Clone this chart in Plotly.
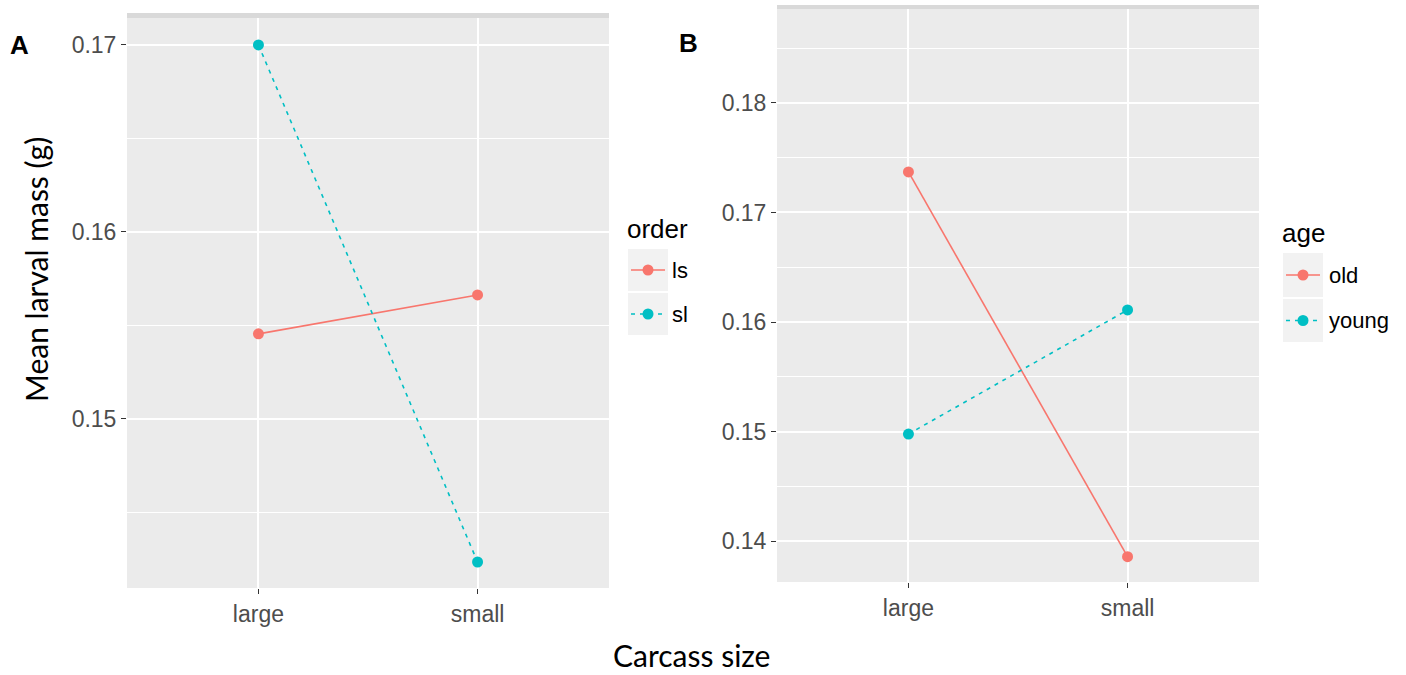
import plotly.graph_objects as go

# Carcass size categories and group means (g)
sizes = ["large", "small"]

order_groups = ["ls", "sl"]
order_ls = [0.15455, 0.15663]
order_sl = [0.1700, 0.14235]

age_groups = ["old", "young"]
age_old = [0.1737, 0.13857]
age_young = [0.14977, 0.1611]

y_ticks_a = [0.15, 0.16, 0.17]
y_ticks_b = [0.14, 0.15, 0.16, 0.17, 0.18]

W, H = 1406, 675
RED = "#F8766D"
CYAN = "#00BFC4"
PANEL_BG = "#EBEBEB"
TICK_FONT = dict(family="Liberation Sans, Arial, sans-serif", size=23, color="#4D4D4D")
TITLE_FAMILY = "Lato, Open Sans, sans-serif"
DOT = "4px,5px"


def px(x):
    return x / W


def py(y):
    return 1 - y / H


fig = go.Figure()

series = [
    ("x", "y", order_ls, RED, "solid"),
    ("x", "y", order_sl, CYAN, DOT),
    ("x2", "y2", age_old, RED, "solid"),
    ("x2", "y2", age_young, CYAN, DOT),
]
for xa, ya, vals, col, dash in series:
    fig.add_trace(go.Scatter(
        x=sizes, y=vals, xaxis=xa, yaxis=ya, mode="lines+markers",
        line=dict(color=col, width=1.6, dash=dash),
        marker=dict(color=col, size=11),
        showlegend=False, hoverinfo="skip",
    ))

# panel geometry in pixels: (left, right, top, bottom)
panel_a = (127, 609, 18, 588)
panel_b = (777, 1259, 9, 582)


def xaxis_cfg(panel, anchor):
    l, r, t, b = panel
    return dict(
        domain=[px(l), px(r)], anchor=anchor, type="category",
        categoryorder="array", categoryarray=sizes, range=[-0.6, 1.6],
        showgrid=True, gridcolor="white", gridwidth=2, zeroline=False,
        ticks="outside", ticklen=5, tickwidth=1.2, tickcolor="#333333",
        tickfont=TICK_FONT, showline=False,
    )


def yaxis_cfg(panel, anchor, rng, ticks):
    l, r, t, b = panel
    return dict(
        domain=[py(b), py(t)], anchor=anchor, range=rng,
        tickmode="array", tickvals=ticks, ticktext=[f"{v:.2f}" for v in ticks],
        showgrid=True, gridcolor="white", gridwidth=2, zeroline=False,
        ticks="outside", ticklen=5, tickwidth=1.2, tickcolor="#333333",
        tickfont=TICK_FONT, showline=False,
        minor=dict(dtick=0.01, tick0=0.005, showgrid=True, gridcolor="white",
                   gridwidth=1, ticks=""),
    )


shapes = []
annotations = []

for panel in (panel_a, panel_b):
    l, r, t, b = panel
    shapes.append(dict(type="rect", xref="paper", yref="paper", layer="below",
                       x0=px(l), x1=px(r), y0=py(b), y1=py(t),
                       fillcolor=PANEL_BG, line=dict(width=0)))

# thin darker strip along the top edge of each panel
shapes.append(dict(type="rect", xref="paper", yref="paper", layer="below",
                   x0=px(127), x1=px(609), y0=py(18), y1=py(13),
                   fillcolor="#D9D9D9", line=dict(width=0)))
shapes.append(dict(type="rect", xref="paper", yref="paper", layer="below",
                   x0=px(777), x1=px(1259), y0=py(9), y1=py(5),
                   fillcolor="#D9D9D9", line=dict(width=0)))


def legend(title, title_xy, labels, colors, dashes, key_x, key_rows, label_x):
    annotations.append(dict(text=title, xref="paper", yref="paper",
                            x=px(title_xy[0]), y=py(title_xy[1]),
                            xanchor="left", yanchor="middle", showarrow=False,
                            font=dict(family="Liberation Sans, Arial, sans-serif",
                                      size=26, color="black")))
    for lab, col, dash, (y0, y1) in zip(labels, colors, dashes, key_rows):
        shapes.append(dict(type="rect", xref="paper", yref="paper",
                           x0=px(key_x), x1=px(key_x + 40), y0=py(y1), y1=py(y0),
                           fillcolor="#F2F2F2", line=dict(width=0)))
        yc = (y0 + y1) / 2
        shapes.append(dict(type="line", xref="paper", yref="paper",
                           x0=px(key_x + 3), x1=px(key_x + 37), y0=py(yc), y1=py(yc),
                           line=dict(color=col, width=1.6, dash=dash)))
        xc = key_x + 20
        shapes.append(dict(type="circle", xref="paper", yref="paper",
                           x0=px(xc - 5.5), x1=px(xc + 5.5), y0=py(yc + 5.5), y1=py(yc - 5.5),
                           fillcolor=col, line=dict(width=0)))
        annotations.append(dict(text=lab, xref="paper", yref="paper",
                                x=px(label_x), y=py(yc), xanchor="left", yanchor="middle",
                                showarrow=False,
                                font=dict(family="Liberation Sans, Arial, sans-serif",
                                          size=22, color="black")))


legend("order", (625, 229), order_groups, [RED, CYAN], ["solid", DOT],
       628, [(249, 291), (293, 335)], 670)
legend("age", (1280, 233), age_groups, [RED, CYAN], ["solid", DOT],
       1283, [(253, 297), (299, 342)], 1327)

# panel letters and shared axis titles
annotations.append(dict(text="<b>A</b>", xref="paper", yref="paper", x=px(19), y=py(45),
                        xanchor="center", yanchor="middle", showarrow=False,
                        font=dict(family="Liberation Sans, Arial, sans-serif", size=26, color="black")))
annotations.append(dict(text="<b>B</b>", xref="paper", yref="paper", x=px(688), y=py(43),
                        xanchor="center", yanchor="middle", showarrow=False,
                        font=dict(family="Liberation Sans, Arial, sans-serif", size=26, color="black")))
annotations.append(dict(text="Mean larval mass (g)", xref="paper", yref="paper",
                        x=px(36), y=py(270), xanchor="center", yanchor="middle",
                        textangle=-90, showarrow=False,
                        font=dict(family=TITLE_FAMILY, size=30, color="black")))
annotations.append(dict(text="Carcass size", xref="paper", yref="paper",
                        x=px(691), y=py(674), xanchor="center", yanchor="bottom",
                        showarrow=False, borderpad=0,
                        font=dict(family=TITLE_FAMILY, size=30, color="black")))

fig.update_layout(
    width=W, height=H,
    margin=dict(l=0, r=0, t=0, b=0),
    paper_bgcolor="white", plot_bgcolor="rgba(0,0,0,0)",
    xaxis=xaxis_cfg(panel_a, "y"),
    yaxis=yaxis_cfg(panel_a, "x", [0.14096, 0.17144], y_ticks_a),
    xaxis2=xaxis_cfg(panel_b, "y2"),
    yaxis2=yaxis_cfg(panel_b, "x2", [0.13626, 0.18858], y_ticks_b),
    shapes=shapes, annotations=annotations,
    showlegend=False,
)

fig.write_html("out.html")
